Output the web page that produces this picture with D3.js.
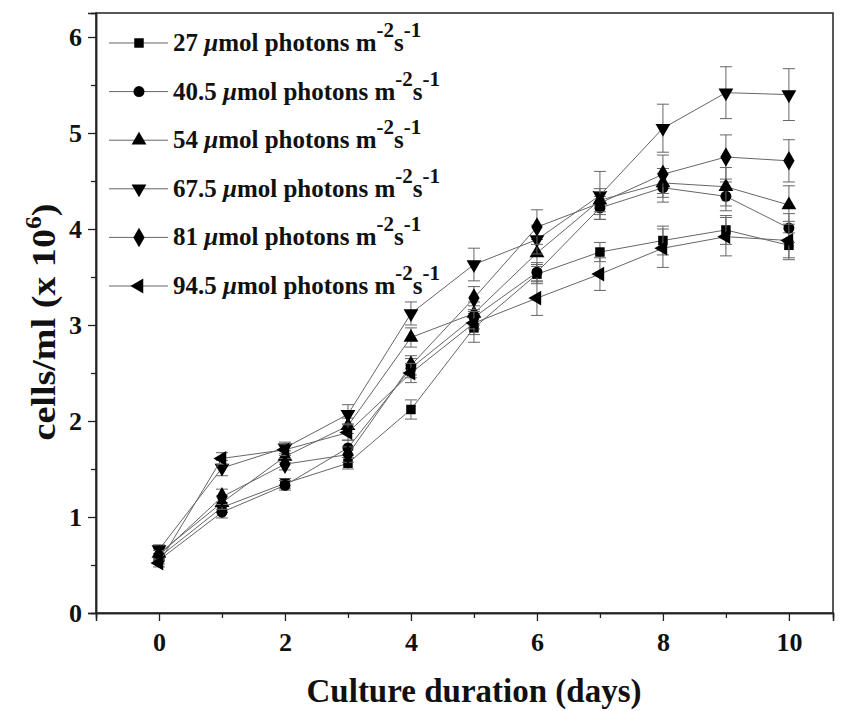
<!DOCTYPE html>
<html>
<head>
<meta charset="utf-8">
<script src="https://cdn.jsdelivr.net/npm/d3@7/dist/d3.min.js"></script>
<style>
  html, body { margin: 0; padding: 0; background: #fff; }
  svg { display: block; }
  text { font-family: "Liberation Serif", "Times New Roman", serif; font-weight: bold; fill: #111; }
</style>
</head>
<body>
<svg id="chart" width="844" height="711"></svg>
<script>
// Culture days
const days = [0, 1, 2, 3, 4, 5, 6, 7, 8, 9, 10];

// Light intensities (µmol photons m-2 s-1)
const intensities = ["27", "40.5", "54", "67.5", "81", "94.5"];

// Cell density (x 10^6 cells/ml) per light intensity
const cells27 = [0.58, 1.10, 1.35, 1.56, 2.12, 2.97, 3.53, 3.76, 3.88, 3.99, 3.83];
const cells40 = [0.55, 1.05, 1.33, 1.72, 2.55, 3.08, 3.55, 4.22, 4.43, 4.34, 4.01];
const cells54 = [0.62, 1.15, 1.63, 1.95, 2.87, 3.12, 3.75, 4.30, 4.48, 4.44, 4.25];
const cells67 = [0.66, 1.51, 1.72, 2.07, 3.12, 3.63, 3.89, 4.35, 5.05, 5.42, 5.40];
const cells81 = [0.60, 1.21, 1.55, 1.65, 2.58, 3.28, 4.02, 4.27, 4.57, 4.75, 4.71];
const cells94 = [0.52, 1.61, 1.70, 1.88, 2.50, 3.02, 3.28, 3.53, 3.80, 3.92, 3.88];

// Standard deviations
const err27 = [0.04, 0.05, 0.05, 0.06, 0.10, 0.15, 0.10, 0.10, 0.15, 0.15, 0.13];
const err40 = [0.04, 0.06, 0.05, 0.08, 0.10, 0.12, 0.10, 0.12, 0.15, 0.15, 0.15];
const err54 = [0.05, 0.07, 0.06, 0.08, 0.10, 0.12, 0.14, 0.12, 0.15, 0.20, 0.20];
const err67 = [0.05, 0.08, 0.06, 0.10, 0.12, 0.17, 0.15, 0.25, 0.25, 0.27, 0.27];
const err81 = [0.05, 0.08, 0.06, 0.08, 0.10, 0.12, 0.18, 0.12, 0.20, 0.23, 0.22];
const err94 = [0.04, 0.06, 0.06, 0.08, 0.10, 0.12, 0.18, 0.17, 0.20, 0.20, 0.20];

// Axis ticks
const xTicks = [0, 2, 4, 6, 8, 10];
const xMinor = [1, 3, 5, 7, 9];
const yTicks = [0, 1, 2, 3, 4, 5, 6];
const yMinor = [0.5, 1.5, 2.5, 3.5, 4.5, 5.5];

const seriesValues = [cells27, cells40, cells54, cells67, cells81, cells94];
const seriesErrors = [err27, err40, err54, err67, err81, err94];

// Marker shapes and rotations for each series
const markerTypes = [
  { type: d3.symbolSquare, size: 90, rot: 0 },
  { type: d3.symbolCircle, size: 95, rot: 0 },
  { type: d3.symbolTriangle, size: 95, rot: 0 },
  { type: d3.symbolTriangle, size: 95, rot: 180 },
  { type: d3.symbolDiamond, size: 110, rot: 0 },
  { type: d3.symbolTriangle, size: 95, rot: -90 }
];

const series = intensities.map((name, i) => ({
  name,
  marker: markerTypes[i],
  points: days.map((d, j) => ({ day: d, value: seriesValues[i][j], err: seriesErrors[i][j] }))
}));

const svg = d3.select("#chart");
const plot = { left: 96, right: 833, top: 13, bottom: 613 };

const x = d3.scaleLinear().domain([-1, 10.7]).range([plot.left, plot.right]);
const y = d3.scaleLinear().domain([0, 6.25]).range([plot.bottom, plot.top]);

// Frame
svg.append("rect")
  .attr("x", plot.left).attr("y", plot.top)
  .attr("width", plot.right - plot.left).attr("height", plot.bottom - plot.top)
  .attr("fill", "none").attr("stroke", "#222").attr("stroke-width", 1.5);

// Bottom axis
const xAxis = svg.append("g").attr("transform", `translate(0,${plot.bottom})`)
  .call(d3.axisBottom(x).tickValues(xTicks).tickSize(8).tickPadding(12).tickFormat(d3.format("d")));
svg.append("g").attr("transform", `translate(0,${plot.bottom})`)
  .call(d3.axisBottom(x).tickValues(xMinor).tickSize(5).tickFormat(""));

// Left axis
const yAxis = svg.append("g").attr("transform", `translate(${plot.left},0)`)
  .call(d3.axisLeft(y).tickValues(yTicks).tickSize(8).tickPadding(6).tickFormat(d3.format("d")));
svg.append("g").attr("transform", `translate(${plot.left},0)`)
  .call(d3.axisLeft(y).tickValues(yMinor).tickSize(5).tickFormat(""));

svg.selectAll(".domain").attr("stroke", "#222").attr("stroke-width", 1.5);
svg.selectAll(".tick line").attr("stroke", "#222").attr("stroke-width", 1.3);
[xAxis, yAxis].forEach(a => a.selectAll(".tick text")
  .attr("font-size", 26).attr("font-family", "Liberation Serif").attr("font-weight", "bold").attr("fill", "#111"));

// Axis titles
svg.append("text")
  .attr("x", 474).attr("y", 702)
  .attr("text-anchor", "middle").attr("font-size", 33)
  .text("Culture duration (days)");

const yTitle = svg.append("text")
  .attr("transform", `translate(55,322) rotate(-90) scale(1.12,1)`)
  .attr("text-anchor", "middle").attr("font-size", 34);
yTitle.append("tspan").text("cells/ml (x 10");
yTitle.append("tspan").attr("dy", -14).attr("font-size", 23).text("6");
yTitle.append("tspan").attr("dy", 14).text(")");

const symbolPath = m => d3.symbol().type(m.type).size(m.size)();

const line = d3.line().x(d => x(d.day)).y(d => y(d.value));

const seriesG = svg.selectAll(".series").data(series).join("g").attr("class", "series");

// Connecting lines
seriesG.append("path")
  .attr("d", s => line(s.points))
  .attr("fill", "none").attr("stroke", "#666").attr("stroke-width", 1);

// Error bars
seriesG.each(function(s) {
  const g = d3.select(this).append("g").attr("stroke", "#666").attr("stroke-width", 1);
  g.selectAll("line.v").data(s.points).join("line").attr("class", "v")
    .attr("x1", d => x(d.day)).attr("x2", d => x(d.day))
    .attr("y1", d => y(d.value - d.err)).attr("y2", d => y(d.value + d.err));
  ["lo", "hi"].forEach(k => {
    g.selectAll("line." + k).data(s.points).join("line").attr("class", k)
      .attr("x1", d => x(d.day) - 6).attr("x2", d => x(d.day) + 6)
      .attr("y1", d => y(k === "lo" ? d.value - d.err : d.value + d.err))
      .attr("y2", d => y(k === "lo" ? d.value - d.err : d.value + d.err));
  });
});

// Markers
seriesG.each(function(s) {
  d3.select(this).selectAll("path.mk").data(s.points).join("path").attr("class", "mk")
    .attr("d", symbolPath(s.marker))
    .attr("transform", d => `translate(${x(d.day)},${y(d.value)}) rotate(${s.marker.rot})`)
    .attr("fill", "#000");
});

// Legend
const legend = svg.append("g");
const rowGap = 48.6;
series.forEach((s, i) => {
  const cy = 43 + i * rowGap;
  const row = legend.append("g");
  row.append("line").attr("x1", 109).attr("x2", 168).attr("y1", cy).attr("y2", cy)
    .attr("stroke", "#666").attr("stroke-width", 1);
  row.append("path").attr("d", symbolPath(s.marker))
    .attr("transform", `translate(139,${cy}) rotate(${s.marker.rot})`).attr("fill", "#000");
  const t = row.append("text").attr("x", 173).attr("y", cy + 8).attr("font-size", 25);
  t.append("tspan").text(s.name + " ");
  t.append("tspan").attr("font-style", "italic").text("\u03bc");
  t.append("tspan").text("mol photons m");
  t.append("tspan").attr("dy", -14).attr("font-size", 21).text("-2");
  t.append("tspan").attr("dy", 14).text("s");
  t.append("tspan").attr("dy", -14).attr("font-size", 21).text("-1");
});
</script>
</body>
</html>
